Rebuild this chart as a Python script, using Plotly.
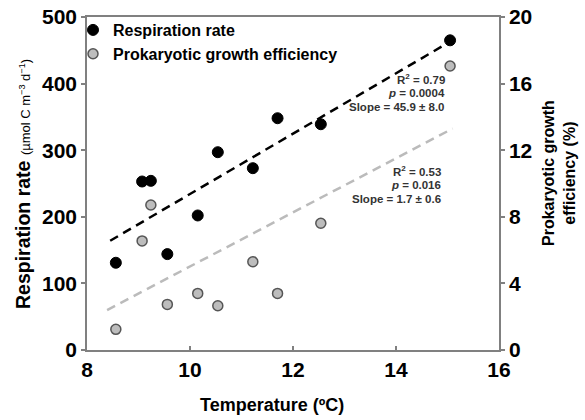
import plotly.graph_objects as go

temperature = [8.56, 9.07, 9.24, 9.56, 10.15, 10.54, 11.22, 11.70, 12.54, 15.05]
respiration = [131, 253, 254, 144, 202, 297, 273, 348, 339, 465]
pge = [1.24, 6.55, 8.71, 2.74, 3.40, 2.66, 5.30, 3.40, 7.61, 17.06]

trend_x_resp = [8.45, 15.05]
trend_resp = [164, 463]
trend_x_pge = [8.39, 15.1]
trend_pge = [2.4, 13.3]

stats_resp = ["R<sup>2</sup> = 0.79", "<i>p</i> = 0.0004", "Slope = 45.9 ± 8.0"]
stats_pge = ["R<sup>2</sup> = 0.53", "<i>p</i> = 0.016", "Slope = 1.7 ± 0.6"]

FONT = "Liberation Sans, Arial, sans-serif"

fig = go.Figure()
fig.add_trace(go.Scatter(x=trend_x_resp, y=trend_resp, mode="lines",
                         line=dict(color="black", width=2.5, dash="9px,6px"),
                         showlegend=False, hoverinfo="skip"))
fig.add_trace(go.Scatter(x=trend_x_pge, y=trend_pge, mode="lines", yaxis="y2",
                         line=dict(color="#bbbbbb", width=2.5, dash="9px,6px"),
                         showlegend=False, hoverinfo="skip"))
fig.add_trace(go.Scatter(x=temperature, y=respiration, mode="markers",
                         name="Respiration rate",
                         marker=dict(color="black", size=11, line=dict(color="black", width=1))))
fig.add_trace(go.Scatter(x=temperature, y=pge, mode="markers", yaxis="y2",
                         name="Prokaryotic growth efficiency",
                         marker=dict(color="#bdbdbd", size=10, line=dict(color="#555555", width=1.5))))

axis_common = dict(showgrid=False, zeroline=False, linecolor="#808080", linewidth=1.5,
                   tickcolor="#808080", tickwidth=1.5, automargin=False,
                   tickfont=dict(family=FONT, size=21, color="black", weight="bold"))

fig.update_layout(
    width=585, height=420,
    margin=dict(l=87, r=86, t=17, b=70),
    plot_bgcolor="white", paper_bgcolor="white",
    font=dict(family=FONT, color="black"),
    xaxis=dict(range=[8, 16], tickvals=[8, 10, 12, 14, 16], ticks="inside", ticklen=4,
               mirror=True, showline=True, **axis_common),
    yaxis=dict(range=[0, 500], tickvals=[0, 100, 200, 300, 400, 500], ticks="outside", ticklen=4,
               showline=True, **axis_common),
    yaxis2=dict(range=[0, 20], tickvals=[0, 4, 8, 12, 16, 20], ticks="outside", ticklen=4,
                overlaying="y", side="right", showline=True, **axis_common),
    legend=dict(x=-14 / 412, y=1.012, xanchor="left", yanchor="top", bgcolor="rgba(0,0,0,0)",
                font=dict(family=FONT, size=16, color="black", weight="bold"),
                tracegroupgap=0, itemwidth=30),
    showlegend=True,
)

annotations = []
# axis titles
annotations.append(dict(text="Temperature (ºC)", x=(272 - 87) / 412, y=-55 / 333, xref="paper", yref="paper",
                        xanchor="center", yanchor="middle",
                        showarrow=False, font=dict(family=FONT, size=18, weight="bold")))
annotations.append(dict(text="<b>Respiration rate</b> <span style='font-size:13px'>(µmol C m<sup>−3</sup> d<sup>−1</sup>)</span>",
                        x=(23 - 87) / 412, y=(350 - 184) / 333, xref="paper", yref="paper", textangle=-90,
                        xanchor="center", yanchor="middle",
                        showarrow=False, font=dict(family=FONT, size=19.5)))
annotations.append(dict(text="Prokaryotic growth<br>efficiency (%)",
                        x=(559 - 87) / 412, y=(350 - 173) / 333, xref="paper", yref="paper", textangle=-90,
                        xanchor="center", yanchor="middle",
                        showarrow=False, font=dict(family=FONT, size=16, weight="bold")))
# stats text
for i, t in enumerate(stats_resp):
    annotations.append(dict(text=t, x=(447 - 87) / 412, y=(350 - (79 + 14 * i)) / 333,
                            xref="paper", yref="paper", xanchor="right", yanchor="middle", showarrow=False,
                            font=dict(family=FONT, size=11.5, color="#333333", weight="bold")))
for i, t in enumerate(stats_pge):
    annotations.append(dict(text=t, x=(443 - 87) / 412, y=(350 - (171 + 14 * i)) / 333,
                            xref="paper", yref="paper", xanchor="right", yanchor="middle", showarrow=False,
                            font=dict(family=FONT, size=11.5, color="#333333", weight="bold")))
fig.update_layout(annotations=annotations)

fig.write_html("out.html")
